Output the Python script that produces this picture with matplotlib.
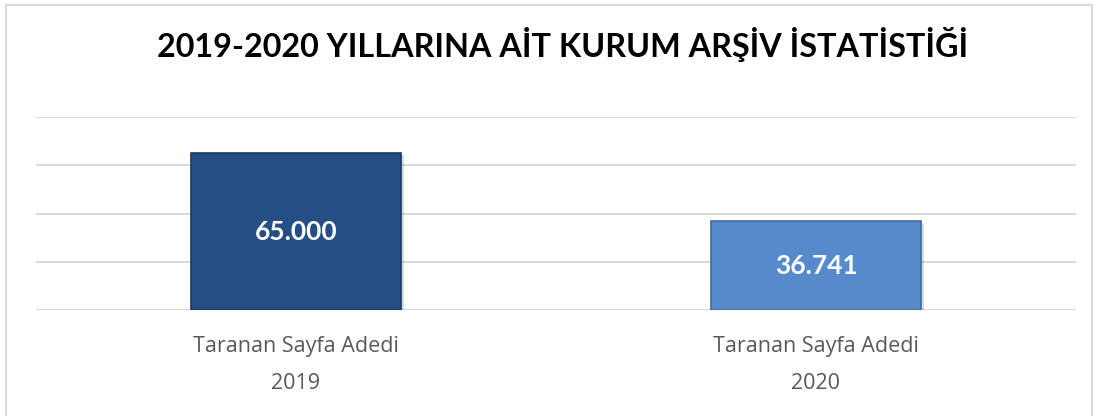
import numpy as np
import matplotlib.pyplot as plt
from matplotlib.patches import Rectangle

# data
categories = ["Taranan Sayfa Adedi\n2019", "Taranan Sayfa Adedi\n2020"]
values = [65000, 36741]
value_labels = ["65.000", "36.741"]
bar_colors = ["#254F84", "#568ACA"]
edge_colors = ["#1B3A61", "#3E6C9F"]

fig = plt.figure(figsize=(10.98, 4.16), dpi=100)
fig.patch.set_facecolor("white")

# light frame around the chart
fig.patches.append(Rectangle((6 / 1098, -0.05), 1086 / 1098, 1.05 - 5 / 416,
                             transform=fig.transFigure, fill=False,
                             edgecolor="#D9D9D9", linewidth=1.5))

ax = fig.add_axes([36 / 1098, 106 / 416, 1040 / 1098, 193 / 416])
x = np.arange(len(categories))

# soft shadow under bars
ax.bar(x + 0.006, values, width=0.404, bottom=-900, color="#000000", alpha=0.15, zorder=2)
bars = ax.bar(x, values, width=0.404, color=bar_colors, edgecolor=edge_colors,
              linewidth=1.2, zorder=3)

for b, lab in zip(bars, value_labels):
    ax.text(b.get_x() + b.get_width() / 2, b.get_height() / 2, lab,
            ha="center", va="center", color="white", fontsize=19,
            fontweight="bold", family="Lato", zorder=4)

ax.set_xlim(-0.5, 1.5)
ax.set_ylim(0, 80000)
ax.set_yticks(np.arange(0, 80001, 20000))
ax.yaxis.grid(True, color="#D9D9D9", linewidth=1.5, zorder=0)
ax.tick_params(axis="y", length=0, labelleft=False)
ax.tick_params(axis="x", length=0, pad=19)
ax.set_xticks(x)
ax.set_xticklabels(categories, fontsize=15.5, color="#595959", family="Open Sans",
                   linespacing=1.95)
for s in ax.spines.values():
    s.set_visible(False)

fig.text(0.512, 0.893, "2019-2020 YILLARINA AİT KURUM ARŞİV İSTATİSTİĞİ",
         ha="center", va="center", fontsize=23.3, fontweight="bold",
         family="Lato", color="black")

fig.savefig("out.png", dpi=100)
